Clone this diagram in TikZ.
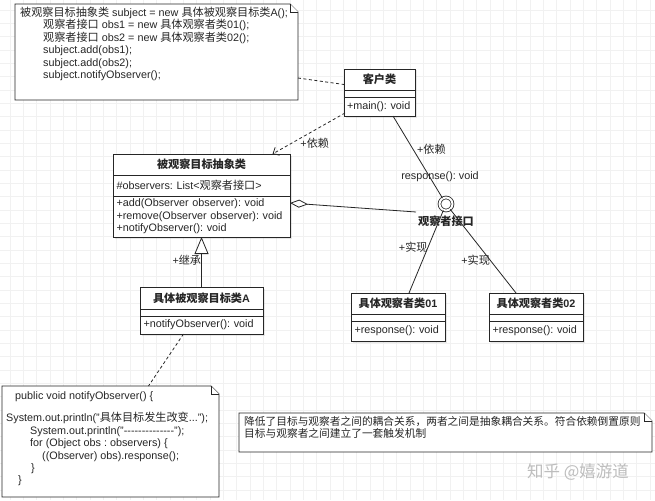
\documentclass[tikz,border=0pt]{standalone}
\usepackage{fontspec}
\setmainfont{Liberation Sans}
\newfontfamily\cjk[Scale=1.03]{Noto Sans CJK SC}
\usetikzlibrary{arrows.meta, positioning, shadows, calc}
\definecolor{grislinea}{HTML}{262626}
\definecolor{grisrejilla}{HTML}{F1F1F1}
\definecolor{grismarca}{HTML}{BDBDBD}
\colorlet{colLinea}{grislinea}
\colorlet{colTexto}{grislinea}
\frenchspacing
\newcommand{\zh}[1]{{\cjk #1}}
\newcommand{\letra}{\fontsize{10.8pt}{12.4pt}\selectfont\frenchspacing}
\newcommand{\letraNota}{\fontsize{10.4pt}{11.6pt}\selectfont}
\newcommand{\guion}{\mbox{-}}
\newcommand{\guiones}{\guion\guion\guion\guion\guion\guion\guion\guion\guion\guion\guion\guion\guion\guion}
% contorno de nota con esquina doblada
\newcommand{\doblez}[2][8]{%
  \draw[contornoNota] (#2.north west) -- ([xshift=-#1pt]#2.north east)
    -- ([yshift=-#1pt]#2.north east) -- (#2.south east) -- (#2.south west) -- cycle;
  \draw[contornoNota] ([xshift=-#1pt]#2.north east) -- ([xshift=-#1pt, yshift=-#1pt]#2.north east)
    -- ([yshift=-#1pt]#2.north east);
}
\tikzset{
  claseBase/.style={
    draw=colLinea, line width=0.8pt, fill=white, outer sep=0pt,
    text=colTexto, drop shadow={shadow xshift=1.5pt, shadow yshift=-1.5pt, opacity=.18}
  },
  claseTitulo/.style={claseBase, anchor=north west, minimum height=21pt,
    inner sep=0pt, font=\letra\bfseries},
  claseCuerpo/.style={claseBase, align=left, inner xsep=3.5pt, inner ysep=0pt, font=\letra},
  marcoNota/.style={draw=none, anchor=north west, inner sep=0pt, outer sep=0pt},
  contornoNota/.style={draw=colLinea, line width=0.8pt, fill=white, line join=miter},
  textoNota/.style={anchor=north west, align=left, inner sep=0pt, text=colTexto, font=\letra},
  interfaz/.style={circle, draw=colLinea, line width=0.8pt, fill=white,
    double=white, double distance=2pt, minimum size=13pt, inner sep=0pt},
  etiqueta/.style={inner sep=0pt, text=colTexto, font=\letra},
  linea/.style={draw=colLinea, line width=0.8pt},
  punteada/.style={linea, dash pattern=on 3pt off 2.5pt},
  dependencia/.style={punteada, -{Straight Barb[length=5pt, width=9pt]}},
  herencia/.style={linea, -{Triangle[open, length=17pt, width=14pt, fill=white]}},
  agregacion/.style={linea, {Diamond[open, length=18pt, width=8pt, fill=white]}-},
  rejilla/.style={draw=grisrejilla, line width=0.6pt},
}
\begin{document}
\begin{tikzpicture}[x=1pt, y=-1pt, font=\letra, node distance=0pt]
  \fill[white] (0,0) rectangle (655,500);
  \useasboundingbox (0,0) rectangle (655,500);
  % rejilla de fondo
  \foreach \x in {10,23.33,...,650} \draw[rejilla] (\x,0) -- (\x,500);
  \foreach \y in {10,23.33,...,495} \draw[rejilla] (0,\y) -- (655,\y);

  % nota del cliente
  \node[marcoNota, minimum width=283pt, minimum height=96pt] (nota1) at (15,4) {};
  \doblez{nota1}
  \node[textoNota] (texto1) at ([xshift=5pt, yshift=-3pt]nota1.north west) {%
    \zh{被观察目标抽象类} subject = new \zh{具体被观察目标类}A();\\
    \hspace*{23pt}\zh{观察者接口} obs1 = new \zh{具体观察者类}01();\\
    \hspace*{23pt}\zh{观察者接口} obs2 = new \zh{具体观察者类}02();\\
    \hspace*{23pt}subject.add(obs1);\\
    \hspace*{23pt}subject.add(obs2);\\
    \hspace*{23pt}subject.notifyObserver();};

  % clases
  \node[claseTitulo, minimum width=71pt] (cliTit) at (344,69) {\zh{客户类}};
  \node[claseCuerpo, below=of cliTit, text width=65pt, inner xsep=3pt, minimum height=7pt] (cliAtr) {};
  \node[claseCuerpo, below=of cliAtr, text width=65pt, inner xsep=3pt, minimum height=19pt] (cliMet) {+main(): void};

  \node[claseTitulo, minimum width=177pt] (absTit) at (113,154) {\zh{被观察目标抽象类}};
  \node[claseCuerpo, below=of absTit, text width=170pt, minimum height=21pt] (absAtr)
    {\#observers: List<\zh{观察者接口}>};
  \node[claseCuerpo, below=of absAtr, text width=170pt, minimum height=41pt] (absMet)
    {+add(Observer observer): void\\+remove(Observer observer): void\\+notifyObserver(): void};

  \node[claseTitulo, minimum width=123pt, minimum height=22pt] (aTit) at (140,287) {\zh{具体被观察目标类}A};
  \node[claseCuerpo, below=of aTit, text width=116pt, minimum height=7pt] (aAtr) {};
  \node[claseCuerpo, below=of aAtr, text width=116pt, minimum height=18pt] (aMet) {+notifyObserver(): void};

  \node[claseTitulo, minimum width=94pt] (o1Tit) at (351,293) {\zh{具体观察者类}01};
  \node[claseCuerpo, below=of o1Tit, text width=87pt, minimum height=7pt] (o1Atr) {};
  \node[claseCuerpo, below=of o1Atr, text width=87pt, minimum height=20pt] (o1Met) {+response(): void};

  \node[claseTitulo, minimum width=94pt] (o2Tit) at (489,293) {\zh{具体观察者类}02};
  \node[claseCuerpo, below=of o2Tit, text width=87pt, minimum height=7pt] (o2Atr) {};
  \node[claseCuerpo, below=of o2Atr, text width=87pt, minimum height=20pt] (o2Met) {+response(): void};

  % interfaz
  \node[interfaz] (obs) at (446,204) {};
  \node[etiqueta, font=\letra\bfseries, below=5pt of obs] (obsNombre) {\zh{观察者接口}};
  \node[etiqueta] (obsMet) at ($(obs)+(-6,-27)$) {response(): void};
  \coordinate (agrFin) at (416,212);

  % nota del metodo notifyObserver
  \node[marcoNota, minimum width=217pt, minimum height=111pt] (nota2) at (2,386) {};
  \doblez{nota2}
  \node[textoNota] (texto2) at ([xshift=4pt, yshift=-5pt]nota2.north west) {%
    \hspace*{9pt}public void notifyObserver() \{\\[10.5pt]
    System.out.println("\zh{具体目标发生改变}...");\\
    \hspace*{24pt}System.out.println("\guiones");\\
    \hspace*{24pt}for (Object obs : observers) \{\\
    \hspace*{36pt}((Observer) obs).response();\\
    \hspace*{25pt}\}\\
    \hspace*{12pt}\}};

  % nota de conclusiones
  \node[marcoNota, minimum width=413pt, minimum height=39pt] (nota3) at (239,413) {};
  \doblez{nota3}
  \node[textoNota, font=\letraNota] (texto3) at ([xshift=5pt, yshift=-3.5pt]nota3.north west) {%
    \zh{降低了目标与观察者之间的耦合关系，两者之间是抽象耦合关系。符合依赖倒置原则}\\
    \zh{目标与观察者之间建立了一套触发机制}};

  % marca de agua
  \node[etiqueta, text=grismarca, font=\fontsize{16pt}{18pt}\selectfont] (marca) at (578,472)
    {\zh{知乎 @嬉游道}};

  % relaciones
  \draw[punteada] ([yshift=-26pt]nota1.east) -- ([yshift=-5pt]cliTit.west);
  \draw[dependencia] ([xshift=1pt, yshift=3pt]cliMet.south west) -- ([xshift=71pt]absTit.north)
    node[etiqueta, pos=0.5, xshift=6pt, yshift=-10pt] {+\zh{依赖}};
  \draw[linea] ([xshift=13.5pt]cliMet.south) -- (obs)
    node[etiqueta, pos=0.4, anchor=west, xshift=4pt] {+\zh{依赖}};
  \draw[agregacion] ([yshift=-7pt]absMet.north east) -- (agrFin);
  \draw[herencia] (aTit) -- (absMet)
    node[etiqueta, pos=0.5, anchor=east, yshift=2pt] {+\zh{继承}};
  \draw[linea] ([xshift=11pt]o1Tit.north) -- (obs)
    node[etiqueta, pos=0.55, anchor=east] {+\zh{实现}};
  \draw[linea] ([xshift=-20pt]o2Tit.north) -- (obs)
    node[etiqueta, pos=0.39, anchor=east] {+\zh{实现}};
  \draw[punteada] ([xshift=-18pt]aMet.south) -- ([xshift=38pt]nota2.north);
\end{tikzpicture}
\end{document}
